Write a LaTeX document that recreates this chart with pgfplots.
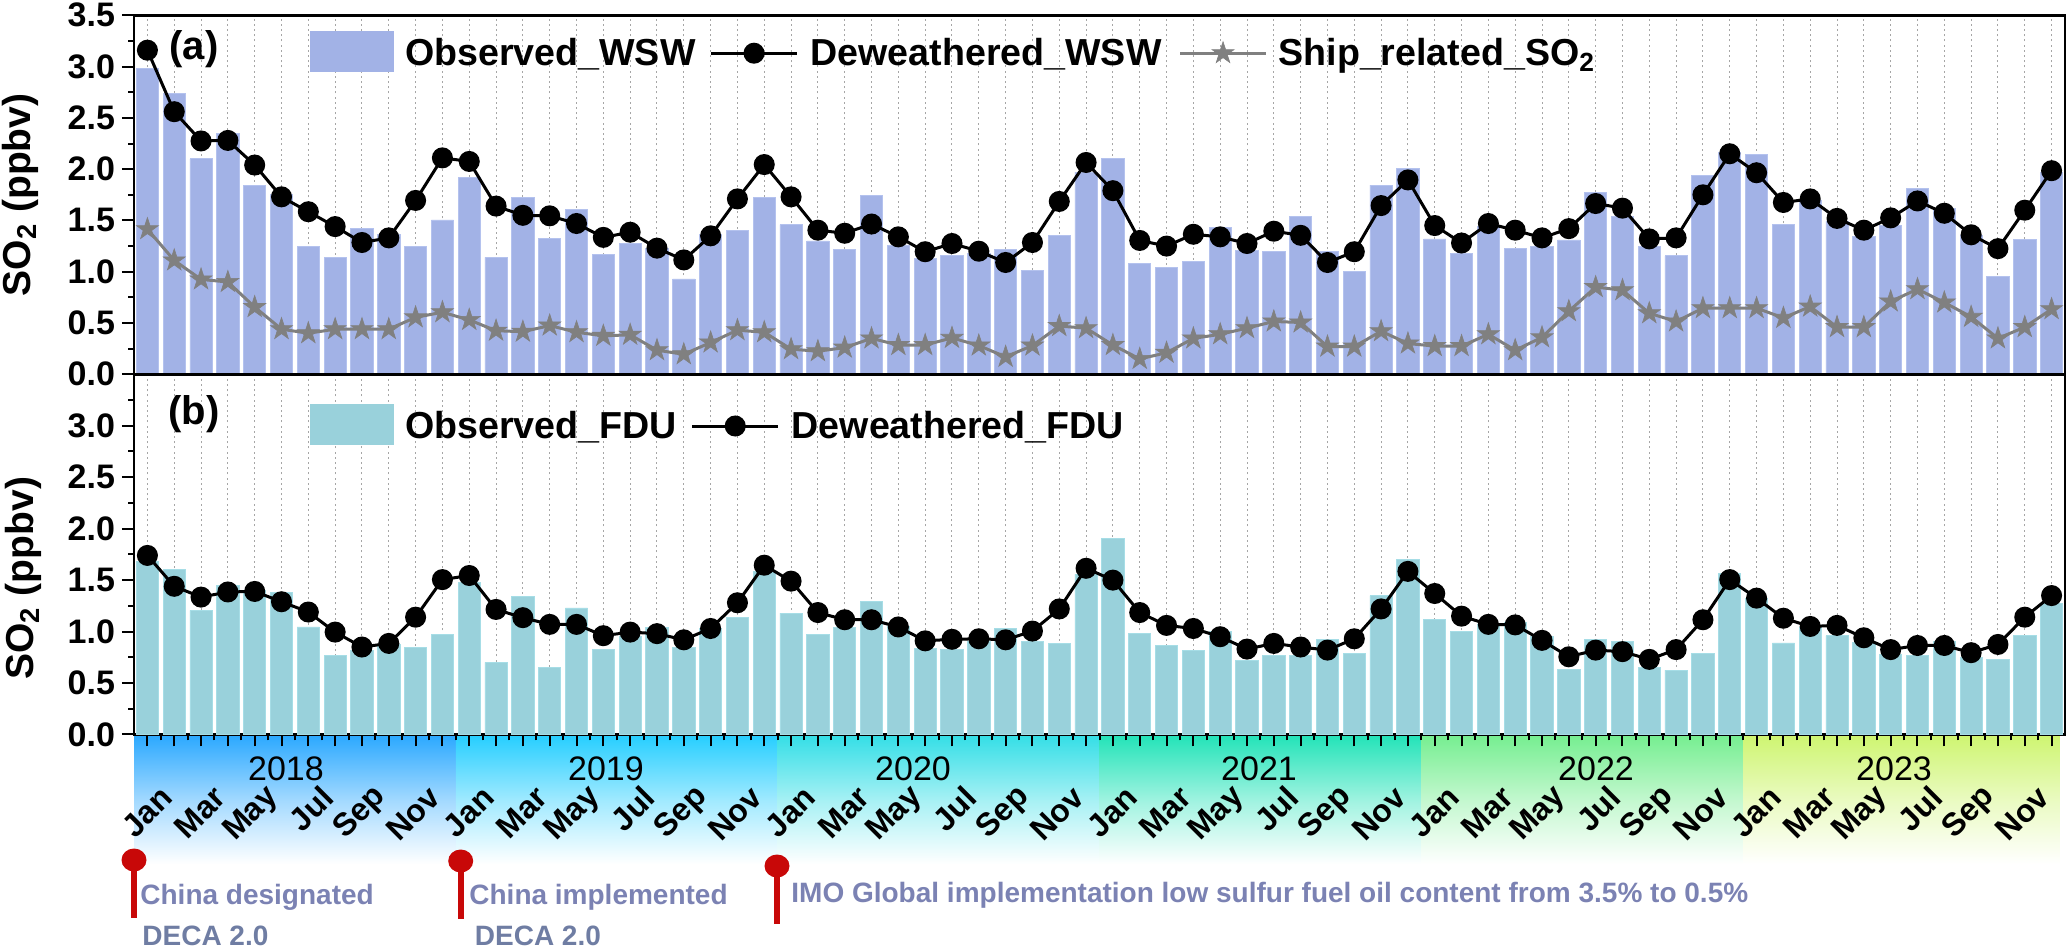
\documentclass[border=0pt]{standalone}
\usepackage{fontspec}
\setmainfont{Liberation Sans}
\usepackage{pgfplots}
\usepackage{pgfplotstable}
\pgfplotsset{compat=1.18}

\definecolor{wswbar}{HTML}{A2B2E6}
\definecolor{wswedge}{HTML}{B4C2EE}
\definecolor{fdubar}{HTML}{99D1DB}
\definecolor{fduedge}{HTML}{A6DDE6}
\definecolor{shipgray}{HTML}{808080}
\definecolor{pinred}{HTML}{C80808}
\definecolor{notecol}{HTML}{7B82B3}
\definecolor{decacol}{HTML}{6F7DA3}
\definecolor{ya}{HTML}{2AA8FF}
\definecolor{yb}{HTML}{25CEFF}
\definecolor{yc}{HTML}{33DEE6}
\definecolor{yd}{HTML}{22E3B8}
\definecolor{ye}{HTML}{75EE90}
\definecolor{yf}{HTML}{CEF570}

% fades to plain white just above the bottom of the strip
\newcommand{\yearfade}[2]{\pgfdeclareverticalshading{#1}{100bp}{color(0bp)=(white); color(27bp)=(white); color(50bp)=(#2!42!white); color(75bp)=(#2); color(100bp)=(#2)}}
\yearfade{fadea}{ya}
\yearfade{fadeb}{yb}
\yearfade{fadec}{yc}
\yearfade{faded}{yd}
\yearfade{fadee}{ye}
\yearfade{fadef}{yf}

\pgfdeclareplotmark{fstar}{%
  \pgfpathmoveto{\pgfpointpolar{90}{\pgfplotmarksize}}%
  \pgfpathlineto{\pgfpointpolar{126}{0.382*\pgfplotmarksize}}%
  \pgfpathlineto{\pgfpointpolar{162}{\pgfplotmarksize}}%
  \pgfpathlineto{\pgfpointpolar{198}{0.382*\pgfplotmarksize}}%
  \pgfpathlineto{\pgfpointpolar{234}{\pgfplotmarksize}}%
  \pgfpathlineto{\pgfpointpolar{270}{0.382*\pgfplotmarksize}}%
  \pgfpathlineto{\pgfpointpolar{306}{\pgfplotmarksize}}%
  \pgfpathlineto{\pgfpointpolar{342}{0.382*\pgfplotmarksize}}%
  \pgfpathlineto{\pgfpointpolar{18}{\pgfplotmarksize}}%
  \pgfpathlineto{\pgfpointpolar{54}{0.382*\pgfplotmarksize}}%
  \pgfpathclose\pgfusepathqfillstroke}

% month, Observed_WSW, Deweathered_WSW, Ship_related, Observed_FDU, Deweathered_FDU
\pgfplotstableread{
m  wsw   dwsw  ship  fdu   dfdu
1  2.985 3.16  1.415 1.68  1.74
2  2.74  2.56  1.11  1.605 1.44
3  2.10  2.275 0.925 1.205 1.335
4  2.35  2.28  0.90  1.445 1.385
5  1.84  2.04  0.655 1.40  1.39
6  1.75  1.73  0.44  1.38  1.29
7  1.245 1.585 0.40  1.045 1.19
8  1.135 1.44  0.44  0.77  0.995
9  1.42  1.285 0.44  0.82  0.85
10 1.36  1.33  0.44  0.88  0.885
11 1.245 1.695 0.555 0.85  1.14
12 1.505 2.11  0.605 0.97  1.505
13 1.92  2.075 0.53  1.48  1.545
14 1.14  1.64  0.425 0.70  1.215
15 1.725 1.55  0.415 1.34  1.135
16 1.325 1.545 0.475 0.655 1.07
17 1.61  1.47  0.41  1.23  1.07
18 1.17  1.335 0.375 0.825 0.96
19 1.28  1.385 0.385 0.95  0.995
20 1.23  1.23  0.235 1.04  0.98
21 0.93  1.115 0.195 0.85  0.92
22 1.36  1.35  0.31  1.03  1.03
23 1.40  1.71  0.43  1.14  1.28
24 1.725 2.045 0.41  1.58  1.645
25 1.46  1.73  0.245 1.18  1.49
26 1.30  1.405 0.225 0.975 1.185
27 1.22  1.375 0.26  1.04  1.115
28 1.74  1.465 0.35  1.295 1.115
29 1.255 1.34  0.285 1.05  1.045
30 1.13  1.195 0.285 0.835 0.91
31 1.155 1.275 0.355 0.825 0.925
32 1.18  1.20  0.28  0.90  0.93
33 1.215 1.09  0.17  1.03  0.92
34 1.015 1.285 0.28  0.905 1.005
35 1.355 1.685 0.47  0.885 1.22
36 1.97  2.065 0.45  1.555 1.615
37 2.105 1.79  0.285 1.905 1.50
38 1.085 1.305 0.15  0.985 1.185
39 1.045 1.25  0.21  0.865 1.06
40 1.10  1.365 0.35  0.82  1.03
41 1.435 1.34  0.39  1.00  0.95
42 1.21  1.275 0.45  0.72  0.83
43 1.195 1.395 0.515 0.77  0.885
44 1.535 1.355 0.505 0.765 0.85
45 1.195 1.09  0.27  0.92  0.82
46 1.00  1.195 0.27  0.785 0.93
47 1.845 1.645 0.42  1.35  1.22
48 2.01  1.895 0.30  1.70  1.585
49 1.32  1.45  0.275 1.115 1.37
50 1.18  1.28  0.275 1.00  1.15
51 1.44  1.47  0.39  1.07  1.07
52 1.225 1.405 0.235 1.085 1.065
53 1.25  1.33  0.36  0.955 0.915
54 1.31  1.42  0.615 0.63  0.755
55 1.775 1.665 0.85  0.92  0.82
56 1.535 1.62  0.82  0.90  0.805
57 1.245 1.32  0.595 0.655 0.73
58 1.155 1.33  0.515 0.625 0.825
59 1.935 1.75  0.645 0.79  1.115
60 2.16  2.15  0.645 1.565 1.505
61 2.14  1.965 0.645 1.32  1.325
62 1.465 1.675 0.55  0.89  1.13
63 1.70  1.71  0.66  1.04  1.05
64 1.49  1.52  0.46  0.96  1.06
65 1.34  1.405 0.46  0.895 0.94
66 1.45  1.525 0.71  0.775 0.825
67 1.81  1.69  0.83  0.765 0.865
68 1.62  1.57  0.70  0.90  0.865
69 1.35  1.36  0.56  0.745 0.795
70 0.95  1.225 0.35  0.73  0.875
71 1.315 1.60  0.46  0.96  1.14
72 1.97  1.985 0.635 1.27  1.35
}\datatable

\pgfplotsset{
  layers/barsunder/.define layer set={axis background,axis grid,pre main,main,axis ticks,axis lines,axis tick labels,axis descriptions,axis foreground}{},
  set layers=barsunder,
  panel/.style={
    scale only axis, width=965.5pt,
    xmin=0.5, xmax=72.5, ymin=0, ymax=3.5,
    xtick={1,2,...,72},
    xmajorgrids,
    x grid style={gray!70, line width=0.5pt, dash pattern=on 1pt off 1.6pt},
    minor ytick={0.25,0.75,...,3.25},
    tick align=outside, ytick pos=left, xtick pos=bottom,
    axis line style={line width=1.3pt},
    major tick length=6pt, minor tick length=3pt,
    every tick/.append style={black, line width=1pt},
    yticklabel style={font=\fontsize{17}{17}\selectfont\bfseries,
      /pgf/number format/.cd, fixed, fixed zerofill, precision=1, assume math mode=true},
    legend cell align=left,
  },
  obar/.style={ybar, bar width=0.83, fill=#1bar, draw=#1edge, line width=0.4pt,
    legend image code/.code={\fill[#1bar] (0pt,-9pt) rectangle (41.5pt,11pt);}},
  lineleg/.style={legend image code/.code={%
    \draw[##1, mark=none] (0pt,0pt) -- (43pt,0pt);
    \draw[##1] plot coordinates {(21.5pt,0pt)};}},
  dline/.style={black, line width=1.5pt, mark=*, mark size=4.5pt, mark options={fill=black, solid}, lineleg},
  sline/.style={shipgray, line width=1.5pt, mark=fstar, mark size=5.8pt, mark options={fill=shipgray, line width=0.3pt}, lineleg},
}

\newcommand{\legfont}{\fontsize{18.8}{18.8}\selectfont\bfseries}
\newcommand{\labfont}{\fontsize{19.5}{19.5}\selectfont\bfseries}

\begin{document}
\begin{tikzpicture}
% year strip, drawn under the ticks of panel b
\begin{axis}[scale only axis, width=965.5pt, height=67.5pt, at={(67pt,-367.25pt)}, anchor=north west,
    xmin=0.5, xmax=72.5, ymin=0, ymax=1, hide axis, clip=false]
  \shade[shading=fadea] (axis cs:0.5,0) rectangle (axis cs:12.5,1);
  \shade[shading=fadeb] (axis cs:12.5,0) rectangle (axis cs:24.5,1);
  \shade[shading=fadec] (axis cs:24.5,0) rectangle (axis cs:36.5,1);
  \shade[shading=faded] (axis cs:36.5,0) rectangle (axis cs:48.5,1);
  \shade[shading=fadee] (axis cs:48.5,0) rectangle (axis cs:60.5,1);
  \shade[shading=fadef] (axis cs:60.5,0) rectangle (axis cs:72.3,1);
\end{axis}

% (a)
\begin{axis}[panel, height=179.5pt, at={(67pt,-7.65pt)}, anchor=north west,
    ytick={0,0.5,...,3.5},
    xticklabels={},
    x tick style={draw=none},
    ylabel={SO\textsubscript{2} (ppbv)},
    ylabel style={font=\labfont, at={(axis description cs:-0.059,0.5)}, anchor=center},
    legend columns=-1,
    legend style={at={(0.0911,0.900)}, anchor=west, draw=none, fill=none, font=\legfont,
      inner sep=0pt, nodes={inner sep=0pt},
      /tikz/column 1/.style={column sep=5.5pt},
      /tikz/column 2/.style={column sep=7pt},
      /tikz/column 3/.style={column sep=6pt},
      /tikz/column 4/.style={column sep=8.5pt},
      /tikz/column 5/.style={column sep=5.5pt}},
  ]
  \addplot[obar=wsw] table[x=m, y=wsw] {\datatable};
  \addlegendentry{Observed\_WSW}
  \addplot[dline] table[x=m, y=dwsw] {\datatable};
  \addlegendentry{Deweathered\_WSW}
  \addplot[sline] table[x=m, y=ship] {\datatable};
  \addlegendentry{Ship\_related\_SO\textsubscript{2}}
  \node[font=\fontsize{20}{20}\selectfont\bfseries] at (axis description cs:0.0311,0.905) {(a)};
\end{axis}

% (b)
\begin{axis}[panel, height=180.1pt, at={(67pt,-187.15pt)}, anchor=north west,
    ytick={0,0.5,...,3},
    minor x tick num=1,
    xticklabels={Jan,,Mar,,May,,Jul,,Sep,,Nov,,Jan,,Mar,,May,,Jul,,Sep,,Nov,,
                 Jan,,Mar,,May,,Jul,,Sep,,Nov,,Jan,,Mar,,May,,Jul,,Sep,,Nov,,
                 Jan,,Mar,,May,,Jul,,Sep,,Nov,,Jan,,Mar,,May,,Jul,,Sep,,Nov,},
    xticklabel style={font=\fontsize{16}{16}\selectfont\bfseries, xshift=12pt, yshift=-20.5pt, rotate=45, anchor=east},
    ylabel={SO\textsubscript{2} (ppbv)},
    ylabel style={font=\labfont, at={(axis description cs:-0.0575,0.434)}, anchor=center},
    legend columns=-1,
    legend style={at={(0.0911,0.862)}, anchor=west, draw=none, fill=none, font=\legfont,
      inner sep=0pt, nodes={inner sep=0pt},
      /tikz/column 1/.style={column sep=5.5pt},
      /tikz/column 2/.style={column sep=7pt},
      /tikz/column 3/.style={column sep=6pt}},
  ]
  \addplot[obar=fdu] table[x=m, y=fdu] {\datatable};
  \addlegendentry{Observed\_FDU}
  \addplot[dline] table[x=m, y=dfdu] {\datatable};
  \addlegendentry{Deweathered\_FDU}
  \node[font=\fontsize{20}{20}\selectfont\bfseries] at (axis description cs:0.0311,0.89) {(b)};
\end{axis}

\begin{scope}[x=0.5pt, y=-0.5pt, font=\fontsize{17}{17}\selectfont]
  \foreach \xx/\yy in {286/2018, 606/2019, 913/2020, 1259/2021, 1596/2022, 1894/2023}
    \node at (\xx,769) {\yy};
\end{scope}

% policy pins
\begin{scope}[x=0.5pt, y=-0.5pt, font=\fontsize{14}{14}\selectfont\bfseries]
  \foreach \xx/\yy in {134/860, 460.7/861, 777/866} {
    \fill[pinred] (\xx-3,\yy) rectangle (\xx+3,\yy+58);
    \fill[pinred] (\xx,\yy) ellipse (12.5 and 11.5);
  }
  \node[anchor=west, inner sep=0pt, text=notecol] at (140,897) {China designated};
  \node[anchor=west, inner sep=0pt, text=decacol] at (142,935.5) {DECA 2.0};
  \node[anchor=west, inner sep=0pt, text=notecol] at (469,897) {China implemented};
  \node[anchor=west, inner sep=0pt, text=decacol] at (474.5,935.5) {DECA 2.0};
  \node[anchor=west, inner sep=0pt, text=notecol] at (791,895) {IMO Global implementation low sulfur fuel oil content from 3.5\% to 0.5\%};
\end{scope}

\pgfresetboundingbox
\path[use as bounding box] (0pt,0pt) rectangle (1033.5pt,-473.5pt);
\end{tikzpicture}
\end{document}
